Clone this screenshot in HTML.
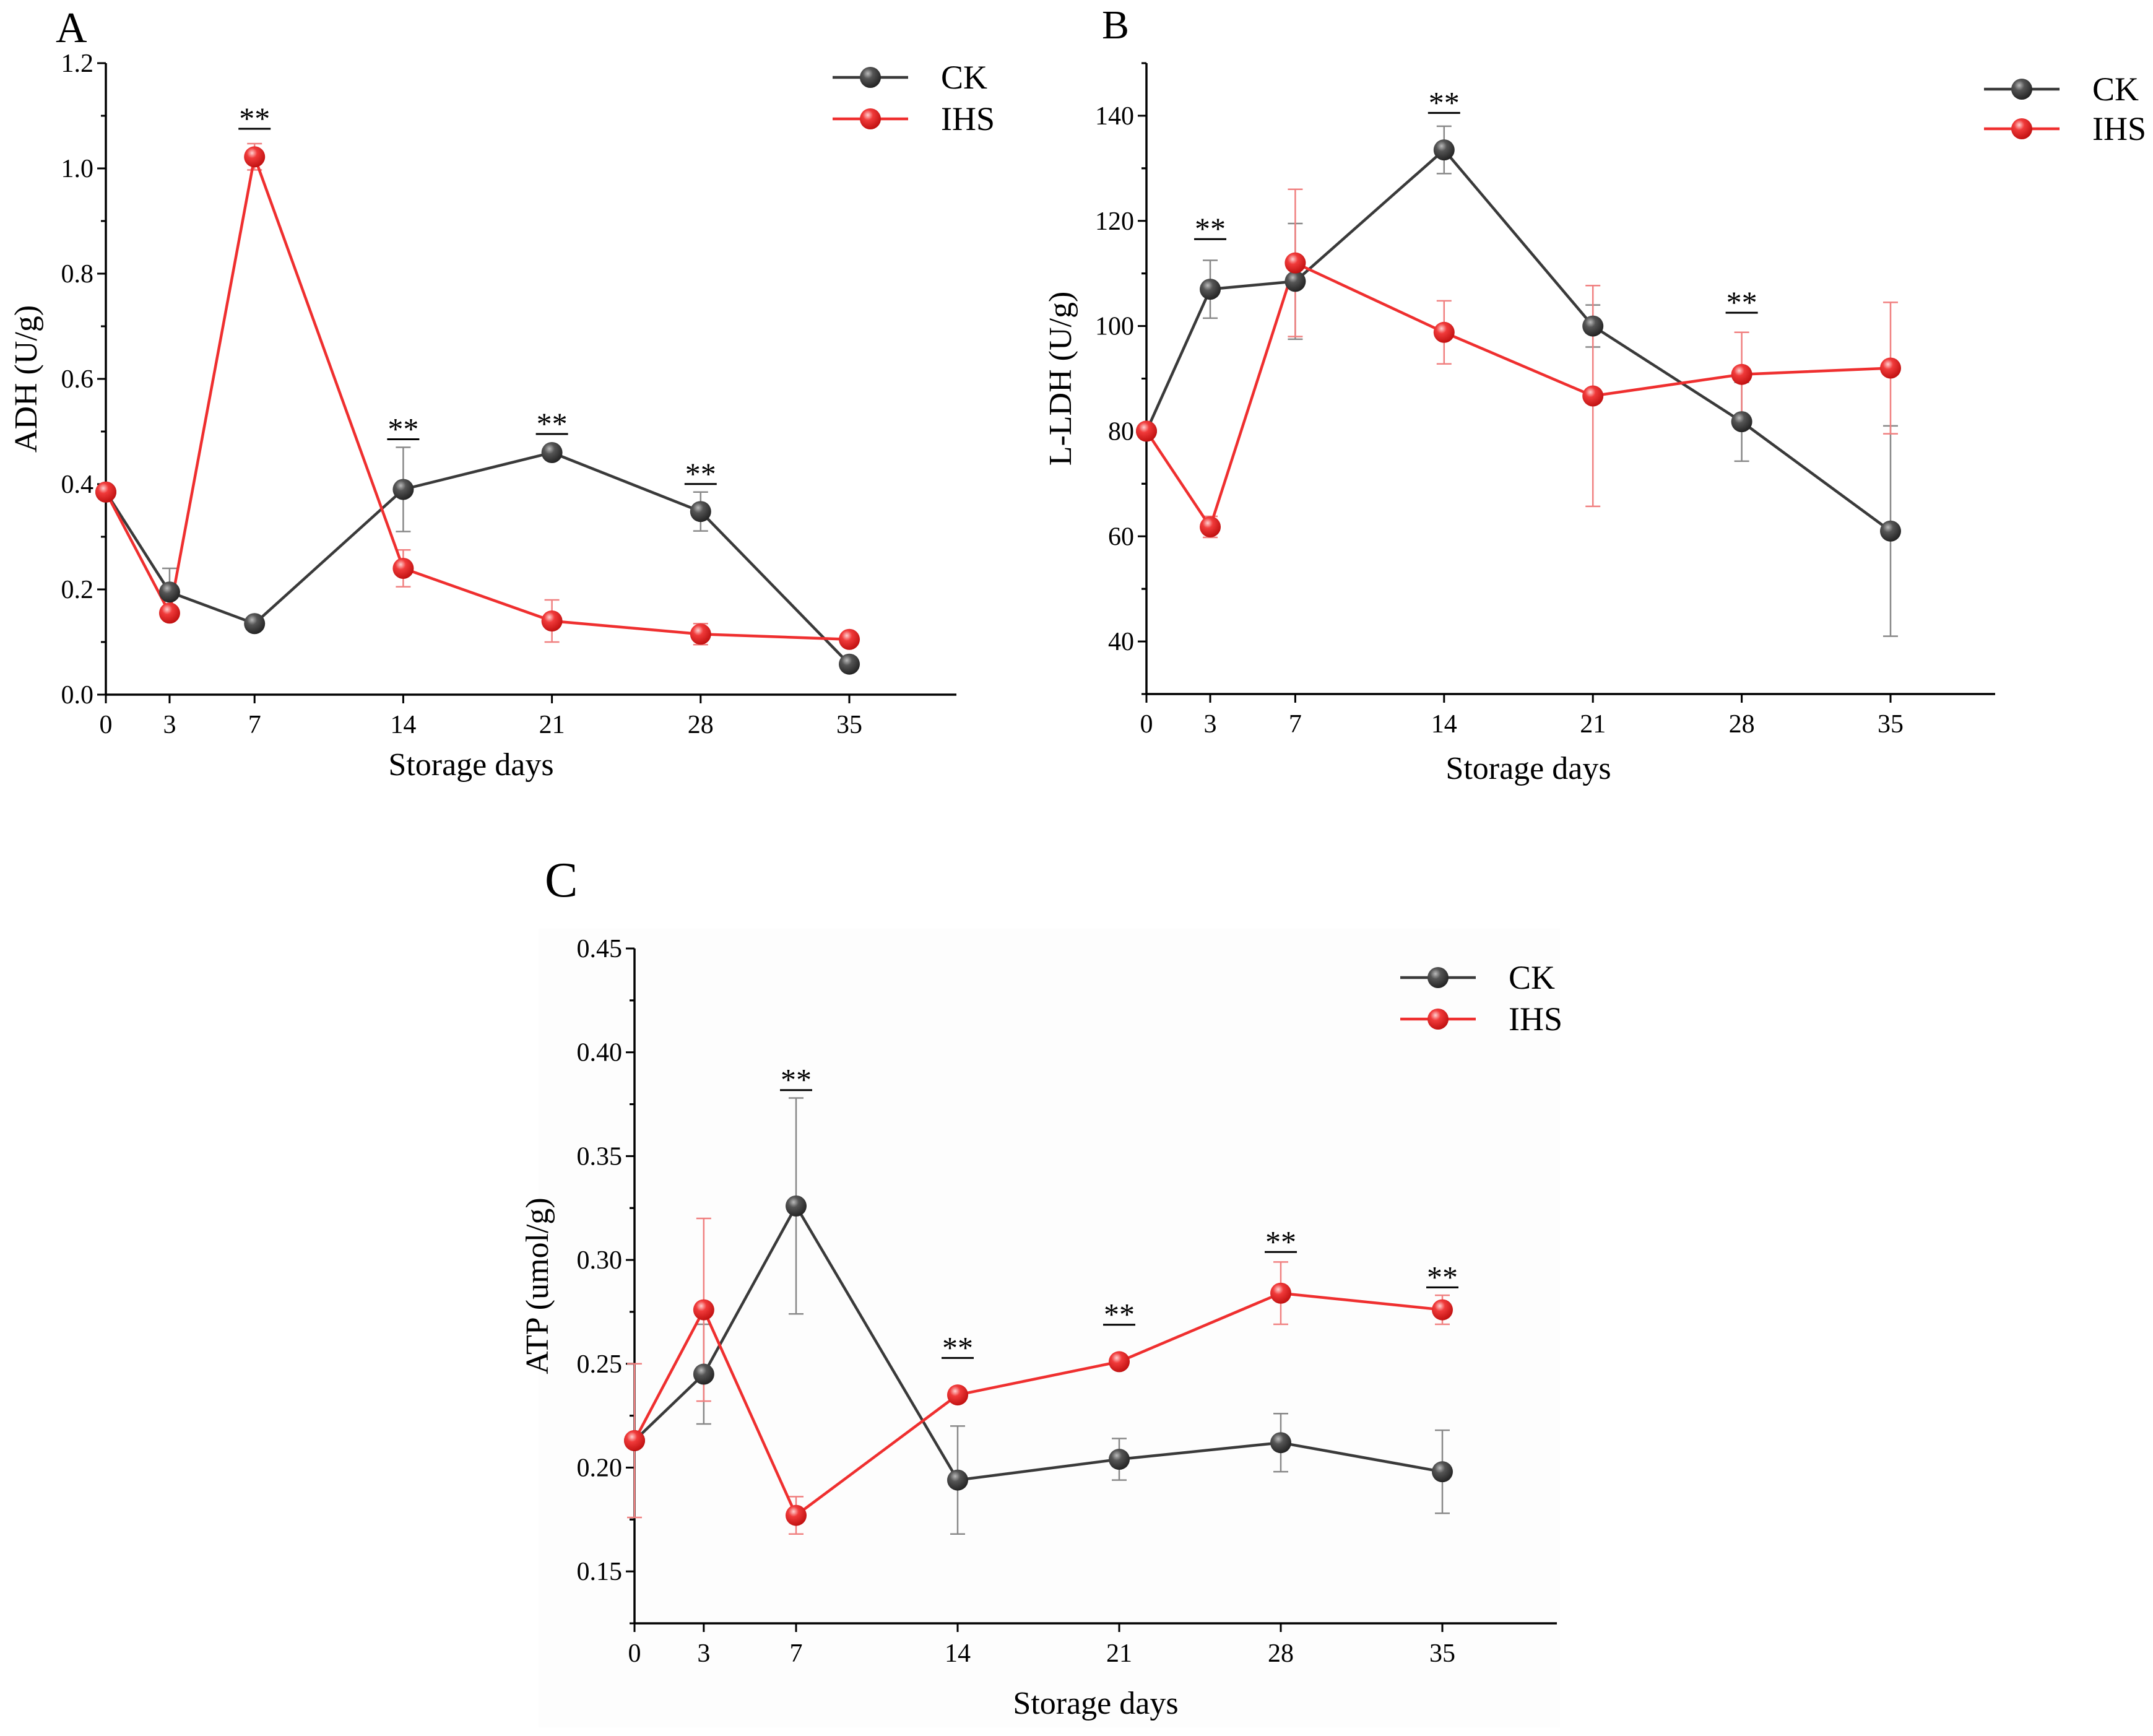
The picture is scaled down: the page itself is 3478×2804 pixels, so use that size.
<!DOCTYPE html>
<html><head><meta charset="utf-8"><style>
html,body{margin:0;padding:0;background:#fff;}
svg{display:block;font-family:"Liberation Serif",serif;}
</style></head><body>
<svg id="chart" width="3478" height="2804" viewBox="0 0 3478 2804" xmlns="http://www.w3.org/2000/svg">
<defs>
<radialGradient id="gGray" cx="0.38" cy="0.32" r="0.7"><stop offset="0" stop-color="#bbbbbb"/><stop offset="0.35" stop-color="#555"/><stop offset="1" stop-color="#222"/></radialGradient>
<radialGradient id="gRed" cx="0.38" cy="0.32" r="0.7"><stop offset="0" stop-color="#ffd0d0"/><stop offset="0.35" stop-color="#f03a3a"/><stop offset="1" stop-color="#c01010"/></radialGradient>
</defs>
<rect x="870" y="1500" width="1650" height="1290" fill="#fdfdfd"/>
<text x="90" y="68" font-size="70">A</text>
<text x="1780" y="62" font-size="66">B</text>
<text x="880" y="1448" font-size="80">C</text>
<g id="gA"></g>
<g id="gB"></g>
<g id="gC"></g>
</svg>
<script>
const days = [0, 3, 7, 14, 21, 28, 35];
const aCK = [0.385, 0.195, 0.135, 0.39, 0.46, 0.348, 0.058];
const aCKErr = [0.005, 0.045, 0.01, 0.08, 0.01, 0.037, 0.01];
const aIHS = [0.385, 0.155, 1.022, 0.24, 0.14, 0.115, 0.105];
const aIHSErr = [0.005, 0.01, 0.025, 0.035, 0.04, 0.02, 0.01];
const aStarDays = [7, 14, 21, 28];
const aStarY = [1.08, 0.49, 0.5, 0.405];
const aTicks = ["0.0", "0.2", "0.4", "0.6", "0.8", "1.0", "1.2"];

const bCK = [80, 107, 108.5, 133.5, 100, 81.8, 61];
const bCKErr = [0.5, 5.5, 11, 4.5, 4, 7.5, 20];
const bIHS = [80, 61.8, 112, 98.8, 86.7, 90.8, 92];
const bIHSErr = [0.5, 2, 14, 6, 21, 8, 12.5];
const bStarDays = [3, 14, 28];
const bStarY = [117, 141, 103];
const bTicks = ["40", "60", "80", "100", "120", "140"];

const cCK = [0.213, 0.245, 0.326, 0.194, 0.204, 0.212, 0.198];
const cCKErr = [0.002, 0.024, 0.052, 0.026, 0.01, 0.014, 0.02];
const cIHS = [0.213, 0.276, 0.177, 0.235, 0.251, 0.284, 0.276];
const cIHSErr = [0.037, 0.044, 0.009, 0.002, 0.002, 0.015, 0.007];
const cStarDays = [7, 14, 21, 28, 35];
const cStarY = [0.383, 0.254, 0.27, 0.305, 0.288];
const cTicks = ["0.15", "0.20", "0.25", "0.30", "0.35", "0.40", "0.45"];

const NS = "http://www.w3.org/2000/svg";
function mk(parent, tag, attrs, txt){
  const e = document.createElementNS(NS, tag);
  for (const k in attrs) e.setAttribute(k, attrs[k]);
  if (txt !== undefined) e.textContent = txt;
  parent.appendChild(e);
  return e;
}

function panel(g, cfg){
  const xs = d => cfg.x0 + (cfg.x35 - cfg.x0) * d / 35;
  const ys = v => cfg.yB - (v - cfg.vMin) / (cfg.vMax - cfg.vMin) * (cfg.yB - cfg.yT);
  let ax = mk(g, "line", {x1: cfg.x0, y1: cfg.yB, x2: cfg.xEnd, y2: cfg.yB, stroke: "#000", "stroke-width": 3.5});
  
  
  let ay = mk(g, "line", {x1: cfg.x0, y1: cfg.yB, x2: cfg.x0, y2: cfg.yT, stroke: "#000", "stroke-width": 3.5});
  
  
  cfg.ticks.forEach(t => {
    const v = parseFloat(t), y = ys(v);
    mk(g, "line", {x1: cfg.x0 - 14, y1: y, x2: cfg.x0, y2: y, stroke: "#000", "stroke-width": 3});
    const tl = mk(g, "text", {x: cfg.x0 - 20, y: y + 14, "font-size": 42, "text-anchor": "end"}, t);
    
    
    const mv = v + cfg.step / 2;
    if (mv <= cfg.vMax) mk(g, "line", {x1: cfg.x0 - 8, y1: ys(mv), x2: cfg.x0, y2: ys(mv), stroke: "#000", "stroke-width": 3});
    const mv2 = v - cfg.step / 2;
    if (mv2 >= cfg.vMin) mk(g, "line", {x1: cfg.x0 - 8, y1: ys(mv2), x2: cfg.x0, y2: ys(mv2), stroke: "#000", "stroke-width": 3});
  });
  days.forEach(d => {
    const x = xs(d);
    mk(g, "line", {x1: x, y1: cfg.yB, x2: x, y2: cfg.yB + 14, stroke: "#000", "stroke-width": 3});
    const tl = mk(g, "text", {x: x, y: cfg.yB + 62, "font-size": 42, "text-anchor": "middle"}, String(d));
    
    
  });
  const xt = mk(g, "text", {x: cfg.xtX, y: cfg.xtY, "font-size": 52, "text-anchor": "middle"}, "Storage days");
  
  
  const ytx = cfg.x0 - cfg.ytOff, yty = (cfg.yB + cfg.yT) / 2;
  const yt = mk(g, "text", {x: ytx, y: yty, "font-size": 52, "text-anchor": "middle", transform: `rotate(-90 ${ytx} ${yty})`}, cfg.ytitle);
  
  
  const series = [
    {vals: cfg.ck, err: cfg.ckErr, col: "#3a3a3a", ecol: "#888", grad: "url(#gGray)", name: "ck"},
    {vals: cfg.ihs, err: cfg.ihsErr, col: "#ef2f2f", ecol: "#f08080", grad: "url(#gRed)", name: "ihs"}
  ];
  series.forEach(s => {
    s.vals.forEach((v, i) => {
      const x = xs(days[i]), y1 = ys(v + s.err[i]), y2 = ys(v - s.err[i]);
      const eg = mk(g, "g", {stroke: s.ecol, "stroke-width": 2.5});
      
      
      mk(eg, "line", {x1: x, y1: y1, x2: x, y2: y2});
      mk(eg, "line", {x1: x - 12, y1: y1, x2: x + 12, y2: y1});
      mk(eg, "line", {x1: x - 12, y1: y2, x2: x + 12, y2: y2});
    });
  });
  series.forEach(s => {
    const pts = s.vals.map((v, i) => xs(days[i]) + "," + ys(v)).join(" ");
    const pl = mk(g, "polyline", {points: pts, fill: "none", stroke: s.col, "stroke-width": 4.5});
    
    
  });
  series.forEach(s => {
    s.vals.forEach((v, i) => {
      const c = mk(g, "circle", {cx: xs(days[i]), cy: ys(v), r: 17, fill: s.grad});
      
      
    });
  });
  cfg.starDays.forEach((d, i) => {
    const x = xs(d), y = ys(cfg.starY[i]);
    const st = mk(g, "text", {x: x, y: y + 4, "font-size": 50, "text-anchor": "middle"}, "**");
    
    
    mk(g, "line", {x1: x - 26, y1: y + 4, x2: x + 26, y2: y + 4, stroke: "#000", "stroke-width": 3});
  });
  [["CK", "#3a3a3a", "url(#gGray)", cfg.lgY1], ["IHS", "#ef2f2f", "url(#gRed)", cfg.lgY2]].forEach(L => {
    const lg = mk(g, "g", {});
    
    
    mk(lg, "line", {x1: cfg.lgX, y1: L[3], x2: cfg.lgX + 122, y2: L[3], stroke: L[1], "stroke-width": 4.5});
    mk(lg, "circle", {cx: cfg.lgX + 61, cy: L[3], r: 17, fill: L[2]});
    mk(lg, "text", {x: cfg.lgX + 175, y: L[3] + 18, "font-size": 54}, L[0]);
  });
}

panel(document.getElementById("gA"), {x0: 171, x35: 1372, xEnd: 1545, yB: 1122, yT: 102, vMin: 0, vMax: 1.2, step: 0.2,
  ticks: aTicks, ck: aCK, ckErr: aCKErr, ihs: aIHS, ihsErr: aIHSErr, starDays: aStarDays, starY: aStarY,
  ytitle: "ADH (U/g)", ytOff: 112, lgX: 1345, lgY1: 125, lgY2: 192, xtX: 761, xtY: 1252});
panel(document.getElementById("gB"), {x0: 1852, x35: 3054, xEnd: 3223, yB: 1121, yT: 102, vMin: 30, vMax: 150, step: 20,
  ticks: bTicks, ck: bCK, ckErr: bCKErr, ihs: bIHS, ihsErr: bIHSErr, starDays: bStarDays, starY: bStarY,
  ytitle: "L-LDH (U/g)", ytOff: 122, lgX: 3205, lgY1: 144, lgY2: 208, xtX: 2469, xtY: 1258});
panel(document.getElementById("gC"), {x0: 1025, x35: 2330, xEnd: 2515, yB: 2622, yT: 1532, vMin: 0.125, vMax: 0.45, step: 0.05,
  ticks: cTicks, ck: cCK, ckErr: cCKErr, ihs: cIHS, ihsErr: cIHSErr, starDays: cStarDays, starY: cStarY,
  ytitle: "ATP (umol/g)", ytOff: 140, lgX: 2262, lgY1: 1579, lgY2: 1646, xtX: 1770, xtY: 2768});
</script>
</body></html>
